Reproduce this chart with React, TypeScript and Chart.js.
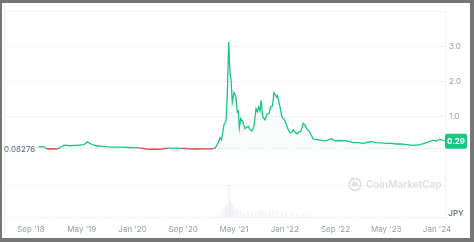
import React, { useEffect, useRef } from "react";
import { Chart, registerables } from "chart.js";

Chart.register(...registerables);

// month index: 0 = Jan 2018
const priceMonths = [
  9.15, 10.0, 10.47, 11.31, 12.26, 12.84, 13.36, 14.15, 14.94, 15.72,
  16.35, 16.87, 17.46, 18.25, 18.88, 20.14, 21.24, 22.34, 23.6, 25.18,
  26.28, 27.55, 28.65, 29.6, 30.7, 31.8, 32.75, 34.0, 35.27, 36.21,
  36.7, 37.0, 37.52, 37.79, 38.03, 38.42, 38.74, 38.94, 39.16, 39.37,
  39.53, 39.73, 40.0, 40.27, 40.52, 40.68, 40.84, 41.06, 41.37, 41.73,
  42.25, 42.52, 42.84, 43.15, 43.47, 43.67, 43.86, 44.1, 44.26, 44.52,
  44.88, 45.2, 45.52, 45.78, 46.07, 46.3, 46.73, 46.85, 47.25, 47.57,
  47.88, 48.2, 48.51, 48.83, 49.14, 49.35, 49.61, 49.93, 50.24, 50.56,
  50.92, 51.19, 51.55, 51.82, 52.25, 52.5, 52.92, 53.55, 54.34, 54.81,
  55.4, 55.92, 56.71, 57.76, 58.8, 59.54, 60.38, 61.12, 61.7, 62.38,
  63.17, 64.07, 64.75, 65.65, 66.33, 67.22, 68.26, 69.32, 70.37, 71.42,
  71.84, 72.47, 72.94, 73.26,
];
const priceValues = [
  0.13, 0.13, 0.075, 0.068, 0.07, 0.14, 0.18, 0.16, 0.17, 0.18,
  0.19, 0.27, 0.21, 0.16, 0.15, 0.13, 0.12, 0.12, 0.11, 0.1,
  0.065, 0.06, 0.065, 0.09, 0.09, 0.088, 0.07, 0.068, 0.07, 0.072,
  0.078, 0.09, 0.25, 0.39, 0.33, 0.76, 0.86, 1.59, 3.13, 2.23,
  2.05, 1.41, 1.68, 1.59, 1.13, 1.15, 0.67, 0.94, 0.85, 0.65,
  0.72, 0.62, 0.58, 0.72, 1.22, 1.13, 1.27, 1.15, 1.45, 0.99,
  0.9, 1.06, 1.08, 1.27, 1.3, 1.68, 1.54, 1.59, 1.27, 0.97,
  0.92, 0.8, 0.64, 0.53, 0.55, 0.62, 0.55, 0.5, 0.55, 0.58,
  0.8, 0.75, 0.62, 0.58, 0.44, 0.35, 0.34, 0.32, 0.3, 0.32,
  0.36, 0.3, 0.31, 0.3, 0.25, 0.25, 0.23, 0.26, 0.28, 0.25,
  0.24, 0.23, 0.23, 0.21, 0.21, 0.19, 0.17, 0.19, 0.25, 0.32,
  0.29, 0.35, 0.31, 0.29,
];

const volumeMonths = [
  10, 12, 14, 16, 17, 18, 20, 22, 24, 26,
  28, 30, 32, 34, 36, 37.5, 38.0, 38.4, 38.7, 38.9,
  39.2, 39.4, 39.6, 39.9, 40.3, 40.7, 41.1, 41.6, 42.2, 42.8,
  43.4, 44.0, 44.5, 45.0, 45.6, 46.2, 46.8, 47.5, 48.2, 49,
  50, 51, 52, 53, 54, 56, 58, 60, 62, 64,
  66, 68, 70, 72,
];
const volumeValues = [
  0.4, 0.3, 0.4, 0.5, 1, 0.5, 0.3, 0.3, 0.3, 0.3,
  0.3, 0.3, 0.3, 0.3, 0.4, 2, 4, 8, 12, 10,
  33, 18, 14, 11, 8, 7, 6, 4, 5, 4,
  6, 7, 6, 5, 6, 7, 6, 5, 4, 3,
  3, 3, 2, 1.5, 1.5, 1, 1, 0.8, 0.8, 0.6,
  0.6, 0.6, 0.8, 1,
];

const tickMonths = [8, 16, 24, 32, 40, 48, 56, 64, 72];
const tickLabels = ["Sep '18", "May '19", "Jan '20", "Sep '20", "May '21", "Jan '22", "Sep '22", "May '23", "Jan '24"];
const priceTicks = [1, 2, 3];
const baselinePrice = 0.08276;
const lastPriceLabel = "0.29";
const currencyLabel = "JPY";
const watermark = "CoinMarketCap";

const X_MIN = 3.9;
const X_MAX = 73.26;
const Y_MIN = -1.873;
const Y_MAX = 3.983;
const SEPARATOR = -0.97;

const GREEN = "#16c784";
const RED = "#ea3943";
const GRID = "rgba(0,0,0,0.05)";
const TICK_COLOR = "#959bab";

export default function App() {
  const ref = useRef<HTMLCanvasElement | null>(null);

  useEffect(() => {
    const canvas = ref.current;
    if (!canvas) return;

    const decor = {
      id: "decor",
      beforeDatasetsDraw(chart: any) {
        const { ctx, chartArea, scales } = chart;
        const y = Math.round(scales.y.getPixelForValue(baselinePrice)) + 0.5;
        const x0 = scales.x.getPixelForValue(priceMonths[0]);
        ctx.save();
        ctx.strokeStyle = "#d3d9e4";
        ctx.lineWidth = 1;
        ctx.setLineDash([1, 2]);
        ctx.beginPath();
        ctx.moveTo(x0, y);
        ctx.lineTo(chartArea.right, y);
        ctx.stroke();
        ctx.setLineDash([]);
        // left faint border
        ctx.strokeStyle = GRID;
        ctx.beginPath();
        ctx.moveTo(chartArea.left - 0.5, 0);
        ctx.lineTo(chartArea.left - 0.5, chart.height);
        ctx.stroke();
        // watermark
        const wy = scales.y.getPixelForValue(SEPARATOR) - 1;
        const wx = chartArea.right - 90;
        ctx.strokeStyle = "#dcdfe5";
        ctx.lineWidth = 1.6;
        ctx.beginPath();
        ctx.arc(wx, wy, 6, 0, Math.PI * 2);
        ctx.stroke();
        ctx.beginPath();
        ctx.moveTo(wx - 3, wy + 2);
        ctx.lineTo(wx - 1.5, wy - 2);
        ctx.lineTo(wx, wy + 1);
        ctx.lineTo(wx + 1.5, wy - 2);
        ctx.lineTo(wx + 3, wy + 2);
        ctx.stroke();
        ctx.fillStyle = "#dcdfe5";
        ctx.font = "600 10px Inter";
        ctx.textAlign = "left";
        ctx.textBaseline = "middle";
        ctx.fillText(watermark, wx + 11, wy + 0.5);
        ctx.restore();
      },
      afterDraw(chart: any) {
        const { ctx, chartArea, scales } = chart;
        ctx.save();
        // baseline label
        const by = scales.y.getPixelForValue(baselinePrice);
        ctx.font = "8px Inter";
        ctx.fillStyle = "#58667e";
        ctx.textAlign = "right";
        ctx.textBaseline = "middle";
        ctx.fillText(String(baselinePrice), scales.x.getPixelForValue(priceMonths[0]) - 3, by + 1.5);
        // last price badge
        const lv = priceValues[priceValues.length - 1];
        const ly = scales.y.getPixelForValue(lv);
        const bx = chartArea.right;
        const bw = 22;
        const bh = 15;
        ctx.fillStyle = GREEN;
        ctx.beginPath();
        (ctx as any).roundRect(bx, ly - bh / 2, bw, bh, 2);
        ctx.fill();
        ctx.fillStyle = "#ffffff";
        ctx.font = "bold 8px Inter";
        ctx.textAlign = "center";
        ctx.fillText(lastPriceLabel, bx + bw / 2, ly + 0.5);
        // currency
        ctx.fillStyle = "#6b7280";
        ctx.font = "600 8px Inter";
        ctx.textAlign = "center";
        ctx.fillText(currencyLabel, chartArea.right + 11, chartArea.bottom - 3);
        ctx.restore();
      },
    };

    const chart = new Chart(canvas, {
      type: "line",
      data: {
        datasets: [
          {
            type: "line",
            data: priceMonths.map((m, i) => ({ x: m, y: priceValues[i] })),
            borderColor: GREEN,
            borderWidth: 1.3,
            pointRadius: 0,
            tension: 0,
            order: 1,
            fill: {
              target: { value: baselinePrice },
              above: "rgba(22,199,132,0.03)",
              below: "rgba(234,57,67,0.04)",
            },
            segment: {
              borderColor: (c: any) =>
                (c.p0.parsed.y + c.p1.parsed.y) / 2 < baselinePrice ? RED : GREEN,
            },
          } as any,
          {
            type: "bar",
            data: volumeMonths.map((m, i) => ({ x: m, y: volumeValues[i] })),
            backgroundColor: "rgba(170,175,190,0.13)",
            barThickness: 1.5,
            yAxisID: "yv",
            order: 2,
          } as any,
        ],
      },
      options: {
        responsive: false,
        animation: false,
        devicePixelRatio: 1,
        layout: { padding: { left: 3, top: 2, right: 0, bottom: 0 } },
        plugins: { legend: { display: false }, tooltip: { enabled: false } },
        scales: {
          x: {
            type: "linear",
            min: X_MIN,
            max: X_MAX,
            offset: false,
            grid: { display: false, drawTicks: false },
            border: { display: true, color: GRID },
            afterBuildTicks: (s: any) => {
              s.ticks = tickMonths.map((v) => ({ value: v }));
            },
            afterFit: (s: any) => {
              s.height = 21;
            },
            ticks: {
              padding: 8,
              maxRotation: 0,
              autoSkip: false,
              color: TICK_COLOR,
              font: { family: "Inter", size: 8 },
              callback: (v: any) => {
                const i = tickMonths.indexOf(Number(v));
                return i >= 0 ? tickLabels[i] : "";
              },
            },
          },
          y: {
            type: "linear",
            position: "right",
            min: Y_MIN,
            max: Y_MAX,
            grid: { color: GRID, drawTicks: false },
            border: { display: true, color: GRID },
            afterBuildTicks: (s: any) => {
              s.ticks = [SEPARATOR, ...priceTicks, Y_MAX].map((v) => ({ value: v }));
            },
            afterFit: (s: any) => {
              s.width = 25;
            },
            ticks: {
              padding: 4,
              color: TICK_COLOR,
              font: { family: "Inter", size: 8 },
              callback: (v: any) => (priceTicks.includes(Number(v)) ? Number(v).toFixed(1) : ""),
            },
          },
          yv: {
            type: "linear",
            display: false,
            min: 0,
            max: 212,
          },
        },
      } as any,
      plugins: [decor],
    });

    return () => chart.destroy();
  }, []);

  return (
    <div style={{ position: "absolute", left: 0, top: 0, width: 474, height: 242, background: "#767676" }}>
      <div style={{ position: "absolute", left: 2, top: 3, width: 468, height: 235, background: "#ffffff" }}>
        <canvas ref={ref} width={468} height={235} style={{ display: "block", width: 468, height: 235 }} />
      </div>
    </div>
  );
}
